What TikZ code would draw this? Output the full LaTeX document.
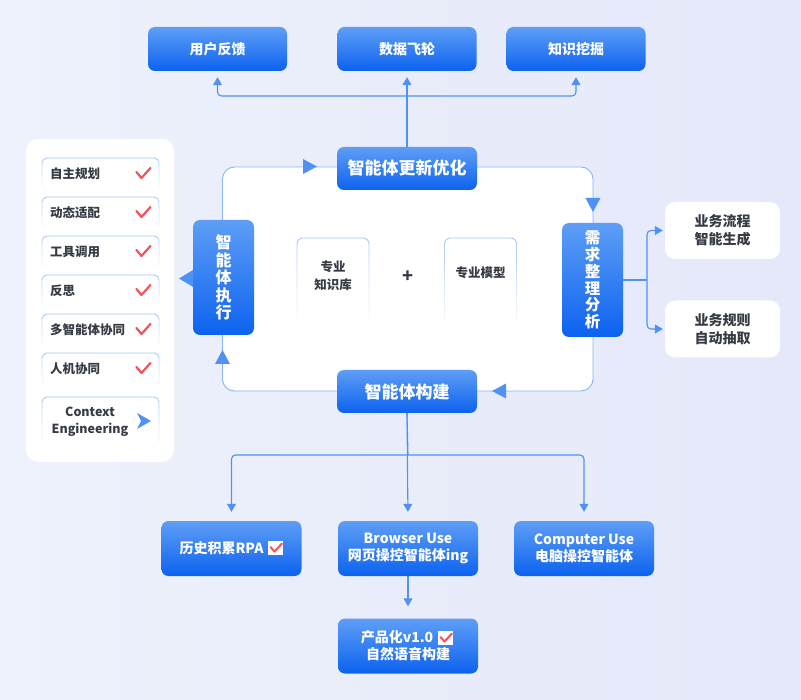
\documentclass[tikz,border=0pt]{standalone}
\usepackage{fontspec}
\setmainfont{Noto Sans CJK SC}
\usetikzlibrary{arrows.meta,fadings}

\definecolor{bgleft}{HTML}{EEF2FC}
\definecolor{bgright}{HTML}{E4E8F9}
\definecolor{linkblue}{HTML}{4F92F3}
\definecolor{boxtop}{HTML}{5E9EF6}
\definecolor{boxbot}{HTML}{0C62EF}
\definecolor{cardline}{HTML}{A8C7F6}
\definecolor{frameline}{HTML}{8CB5F3}
\definecolor{darktext}{HTML}{363B44}
\definecolor{checkred}{HTML}{F2545B}

\tikzset{
  bluebox/.style={rounded corners=7pt,top color=boxtop,bottom color=boxbot,text=white,
    font=\bfseries\fontsize{14}{17}\selectfont,align=center,inner sep=0pt},
  sidebox/.style={rounded corners=10pt,fill=white,text=darktext,inner sep=0pt,
    font=\bfseries\fontsize{14}{18}\selectfont,align=center,minimum width=115,minimum height=57},
  itembox/.style={rounded corners=5pt,fill=white,draw=cardline,line width=0.9pt,path fading=south,
    minimum width=117,minimum height=32,inner ysep=0pt,inner xsep=8pt,text width=101pt,align=left,
    text=darktext,font=\bfseries\fontsize{12.5}{15}\selectfont},
  card/.style={rounded corners=6pt,fill=white,draw=cardline,line width=0.9pt,path fading=south,
    minimum width=72,minimum height=88},
  cardtext/.style={text=darktext,font=\bfseries\fontsize{12.5}{18}\selectfont,align=center},
  link/.style={draw=linkblue,line width=1.1pt,rounded corners=4pt},
  headed/.style={-{Triangle[length=8pt,width=9pt]}},
  redcheck/.style={draw=checkred,line width=2.2pt,line cap=round,line join=round},
  loopmark/.style={fill=linkblue}
}

\begin{document}
\begin{tikzpicture}[x=1pt,y=-1pt]
\useasboundingbox (0,0) rectangle (801,700);
\shade[left color=bgleft,right color=bgright] (0,0) rectangle (801,700);

% top row
\node[bluebox,minimum width=139,minimum height=44] (fb) at (217.5,49) {用户反馈};
\node[bluebox,minimum width=139,minimum height=44] (fly) at (407,49) {数据飞轮};
\node[bluebox,minimum width=139,minimum height=44] (dig) at (576,49) {知识挖掘};

% loop frame
\draw[frameline,fill=white,line width=0.9pt,rounded corners=12pt] (222.5,167) rectangle (593,391);
\fill[loopmark] (303,159) -- (317,166.5) -- (303,174) -- cycle;
\fill[loopmark] (585.5,198) -- (600.5,198) -- (593,212) -- cycle;
\fill[loopmark] (506,383.5) -- (492,391) -- (506,398.5) -- cycle;
\fill[loopmark] (215,364) -- (222.5,350) -- (230,364) -- cycle;

\node[bluebox,minimum width=140,minimum height=43,font=\bfseries\fontsize{17}{20}\selectfont] (upd) at (407,168.5) {智能体更新优化};
\node[bluebox,minimum width=140,minimum height=43,font=\bfseries\fontsize{17}{20}\selectfont] (build) at (407,391.5) {智能体构建};
\node[bluebox,minimum width=61,minimum height=115,font=\bfseries\fontsize{16}{17.5}\selectfont] (exec) at (223.5,277.5) {智\\能\\体\\执\\行};
\fill[loopmark] (193,270) -- (179,278.5) -- (193,287) -- cycle;
\node[bluebox,minimum width=61,minimum height=114,font=\bfseries\fontsize{15.5}{16.7}\selectfont] (need) at (592.5,280) {需\\求\\整\\理\\分\\析};

% knowledge + model
\node[card] (kb) at (333,282) {};
\node[cardtext] (kbtext) at (333,276) {专业\\知识库};
\node[card] (model) at (480.5,282) {};
\node[cardtext] (modeltext) at (480.5,273) {专业模型};
\node[text=darktext,font=\bfseries\fontsize{18}{18}\selectfont] (plus) at (408,277) {+};

% right side
\node[sidebox] (flow) at (722.5,230.5) {业务流程\\智能生成};
\node[sidebox] (rule) at (722.5,329) {业务规则\\自动抽取};
\coordinate (rsplit) at (647,280);
\draw[link] (need.east) -- (rsplit);
\draw[link,headed,shorten >=2pt] (rsplit) |- (flow.west);
\draw[link,headed,shorten >=2pt] (rsplit) |- (rule.west);

% top connectors
\coordinate (tsplit) at (407,96);
\draw[link,headed,shorten >=6pt] (upd.north) -- (fly.south);
\draw[link,headed,shorten >=6pt] (tsplit) -| (fb.south);
\draw[link,headed,shorten >=6pt] (tsplit) -| (dig.south);

% left panel
\fill[white,rounded corners=12pt] (26,139) rectangle (174,462);
\node[itembox] (plan) at (100.5,174) {自主规划};
\node[itembox] (adapt) at (100.5,213) {动态适配};
\node[itembox] (tool) at (100.5,252) {工具调用};
\node[itembox] (reflect) at (100.5,291) {反思};
\node[itembox] (multi) at (100.5,330) {多智能体协同};
\node[itembox] (human) at (100.5,369) {人机协同};
\node[itembox,minimum height=48] (ctx) at (100.5,421) {};
\node[cardtext,font=\bfseries\fontsize{12.5}{17}\selectfont] (ctxtext) at (90,421.5) {Context\\Engineering};
\draw[redcheck] ([xshift=-23pt,yshift=2pt]plan.east) -- ++(5,6) -- ++(9,-10);
\draw[redcheck] ([xshift=-23pt,yshift=2pt]adapt.east) -- ++(5,6) -- ++(9,-10);
\draw[redcheck] ([xshift=-23pt,yshift=2pt]tool.east) -- ++(5,6) -- ++(9,-10);
\draw[redcheck] ([xshift=-23pt,yshift=2pt]reflect.east) -- ++(5,6) -- ++(9,-10);
\draw[redcheck] ([xshift=-23pt,yshift=2pt]multi.east) -- ++(5,6) -- ++(9,-10);
\draw[redcheck] ([xshift=-23pt,yshift=2pt]human.east) -- ++(5,6) -- ++(9,-10);
\fill[loopmark] (137,413) -- (151,421) -- (137,429) -- (141,421) -- cycle;

% bottom row
\node[bluebox,minimum width=140,minimum height=55] (rpa) at (231.5,548.5) {历史积累RPA\rule{20pt}{0pt}};
\node[bluebox,minimum width=140,minimum height=55] (bu) at (408,548.5) {Browser Use\\网页操控智能体ing};
\node[bluebox,minimum width=140,minimum height=55] (cu) at (584,548.5) {Computer Use\\电脑操控智能体};
\node[bluebox,minimum width=140,minimum height=55] (prod) at (408,646) {产品化v1.0\rule{22pt}{0pt}\\自然语音构建};
\fill[white] (268,541) rectangle (283,555);
\draw[redcheck,line width=2pt] (270.5,547) -- (274.5,551.5) -- (282,543.5);
\fill[white] (438,631) rectangle (453,645);
\draw[redcheck,line width=2pt] (440.5,637) -- (444.5,641.5) -- (452,633.5);

\coordinate (bsplit) at (408,455);
\draw[link] (build.south) -- (bsplit);
\draw[link,headed,shorten >=9pt] (bsplit) -| (rpa.north);
\draw[link,headed,shorten >=9pt] (bsplit) -| (cu.north);
\draw[link,headed,shorten >=9pt] (build.south) -- (bu.north);
\draw[link,headed,shorten >=12pt] (bu.south) -- (prod.north);
\end{tikzpicture}
\end{document}
